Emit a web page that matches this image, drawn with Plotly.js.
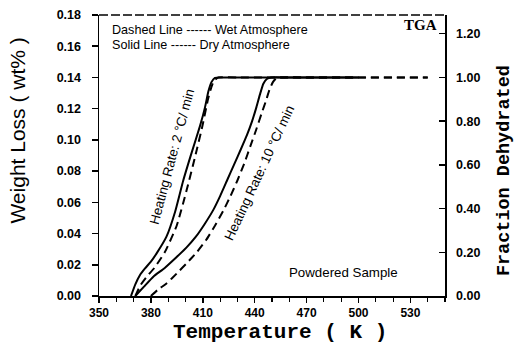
<!DOCTYPE html>
<html>
<head>
<meta charset="utf-8">
<script src="https://cdn.plot.ly/plotly-3.0.1.min.js"></script>
<style>html,body{margin:0;padding:0;background:#fff;}#chart{width:515px;height:343px;}</style>
</head>
<body>
<div id="chart"></div>
<script>
// Temperature (K) and weight loss (wt fraction)
var dry2T = [368.5, 371, 373.7, 376.6, 380, 383.3, 389, 394, 398.7, 403.6, 408.4, 411.3, 413.2, 415, 417, 420, 440, 470, 500];
var dry2W = [0, 0.0075, 0.0135, 0.0177, 0.022, 0.0273, 0.038, 0.054, 0.074, 0.092, 0.109, 0.121, 0.131, 0.137, 0.1398, 0.14, 0.14, 0.14, 0.14];

var wet2T = [371, 374, 377.6, 382, 388, 394.9, 400.7, 405.5, 409.8, 413, 415, 416.5, 419, 430, 460, 500, 540];
var wet2W = [0, 0.007, 0.0124, 0.018, 0.028, 0.045, 0.068, 0.089, 0.109, 0.126, 0.134, 0.138, 0.14, 0.14, 0.14, 0.14, 0.14];

var dry10T = [371, 376, 381.4, 388, 394.9, 400.5, 406, 411, 416, 420, 424, 428, 432, 435.5, 438.5, 441, 443, 445, 447, 449.5, 460, 480, 500];
var dry10W = [0, 0.006, 0.0124, 0.018, 0.025, 0.031, 0.038, 0.046, 0.055, 0.064, 0.074, 0.084, 0.094, 0.103, 0.112, 0.121, 0.129, 0.136, 0.139, 0.14, 0.14, 0.14, 0.14];

var wet10T = [380, 384, 389, 395, 400.7, 406.5, 412, 417, 422, 426, 430, 434, 437.5, 441, 444, 446.5, 448.5, 450.5, 452.5, 455, 470, 500, 540];
var wet10W = [0, 0.004, 0.008, 0.0145, 0.021, 0.028, 0.036, 0.045, 0.055, 0.064, 0.074, 0.085, 0.096, 0.107, 0.117, 0.125, 0.132, 0.137, 0.1395, 0.14, 0.14, 0.14, 0.14];

var xTickVals = [350, 380, 410, 440, 470, 500, 530];
var yTickVals = [0, 0.02, 0.04, 0.06, 0.08, 0.10, 0.12, 0.14, 0.16, 0.18];
var y2TickVals = [0, 0.2, 0.4, 0.6, 0.8, 1.0, 1.2];
var plateauW = 0.14; // weight loss at full dehydration (fraction = 1)

var solid = {color: '#000', width: 2, shape: 'spline', smoothing: 0.5};
var dashed = {color: '#000', width: 2, dash: '8px,5px', shape: 'spline', smoothing: 0.5};

var traces = [
  {x: dry2T, y: dry2W, mode: 'lines', line: solid, name: 'Dry 2 °C/min'},
  {x: wet2T, y: wet2W, mode: 'lines', line: dashed, name: 'Wet 2 °C/min'},
  {x: dry10T, y: dry10W, mode: 'lines', line: solid, name: 'Dry 10 °C/min'},
  {x: wet10T, y: wet10W, mode: 'lines', line: dashed, name: 'Wet 10 °C/min'},
  {x: dry2T, y: dry2W.map(function(w){return w / plateauW;}), yaxis: 'y2', mode: 'lines',
   line: {width: 0, color: 'rgba(0,0,0,0)'}, hoverinfo: 'skip', name: 'fraction'}
];

var tickFont = {family: 'Liberation Sans, Arial, sans-serif', size: 12.5, color: '#000', weight: 'bold'};
var txtFont = {family: 'Liberation Sans, Arial, sans-serif', size: 13.3, color: '#000'};
var legFont = {family: 'Liberation Sans, Arial, sans-serif', size: 12.6, color: '#000'};
var sp = '\u00a0';

var layout = {
  width: 515, height: 343,
  margin: {l: 99, r: 70, t: 15, b: 47, pad: 0},
  paper_bgcolor: '#fff', plot_bgcolor: '#fff',
  showlegend: false,
  xaxis: {
    range: [350, 550], tickvals: xTickVals, ticktext: xTickVals.map(String),
    ticks: 'outside', ticklen: 5, tickwidth: 1.5, tickcolor: '#000',
    minor: {dtick: 10, tick0: 350, ticks: 'outside', ticklen: 4, tickwidth: 1.2, tickcolor: '#000', showgrid: false},
    showline: true, linecolor: '#000', linewidth: 1.5,
    showgrid: false, zeroline: false,
    tickfont: {family: 'Liberation Sans, Arial, sans-serif', size: 12, color: '#000', weight: 'bold'}
  },
  yaxis: {
    range: [0, 0.18], tickvals: yTickVals, tickformat: '.2f',
    ticks: 'outside', ticklen: 6, tickwidth: 1.5, tickcolor: '#000',
    ticklabelstandoff: 8,
    showline: true, linecolor: '#000', linewidth: 1.5,
    showgrid: false, zeroline: false, tickfont: tickFont
  },
  yaxis2: {
    overlaying: 'y', side: 'right',
    range: [0, 0.18 / plateauW], tickvals: y2TickVals, tickformat: '.2f',
    ticks: 'inside', ticklen: 6, tickwidth: 1.5, tickcolor: '#000',
    ticklabelstandoff: 7,
    showline: true, linecolor: '#000', linewidth: 1.5,
    showgrid: false, zeroline: false, tickfont: tickFont
  },
  shapes: [
    {type: 'line', xref: 'paper', yref: 'paper', x0: 0, x1: 1, y0: 1, y1: 1,
     line: {color: '#000', width: 1.5, dash: '9px,3px'}}
  ],
  annotations: [
    {text: 'Temperature ( K )', xref: 'paper', yref: 'paper', x: 0.523, y: -0.13,
     xanchor: 'center', yanchor: 'middle', showarrow: false,
     font: {family: 'Liberation Mono, Courier New, monospace', size: 21, color: '#000', weight: 'bold'}},
    {text: 'Weight' + sp + 'Loss' + sp + '(' + sp + 'wt%' + sp + ')', xref: 'paper', yref: 'paper', x: -0.2355, y: 0.587,
     xanchor: 'center', yanchor: 'middle', showarrow: false, textangle: -90,
     font: {family: 'Liberation Sans, Arial, sans-serif', size: 21, color: '#000'}},
    {text: 'Fraction Dehydrated', xref: 'paper', yref: 'paper', x: 1.1705, y: 0.448,
     xanchor: 'center', yanchor: 'middle', showarrow: false, textangle: -90,
     font: {family: 'Liberation Mono, Courier New, monospace', size: 18.5, color: '#000', weight: 'bold'}},
    {text: 'TGA', xref: 'paper', yref: 'paper', x: 0.9827, y: 0.9644,
     xanchor: 'right', yanchor: 'middle', showarrow: false,
     font: {family: 'Liberation Serif, Times New Roman, serif', size: 15, color: '#000', weight: 'bold'}},
    {text: 'Dashed Line ------ Wet Atmosphere', xref: 'paper', yref: 'paper', x: 0.0318, y: 0.946,
     xanchor: 'left', yanchor: 'middle', showarrow: false, font: legFont},
    {text: 'Solid Line ------ Dry Atmosphere', xref: 'paper', yref: 'paper', x: 0.0318, y: 0.893,
     xanchor: 'left', yanchor: 'middle', showarrow: false, font: legFont},
    {text: 'Heating Rate: 2 °C/ min', x: 392.2, y: 0.0893, xref: 'x', yref: 'y',
     xanchor: 'center', yanchor: 'middle', showarrow: false, textangle: -75, font: txtFont},
    {text: 'Heating Rate: 10 °C/ min', x: 442.5, y: 0.0785, xref: 'x', yref: 'y',
     xanchor: 'center', yanchor: 'middle', showarrow: false, textangle: -65, font: txtFont},
    {text: 'Powdered Sample', xref: 'paper', yref: 'paper', x: 0.708, y: 0.0854,
     xanchor: 'center', yanchor: 'middle', showarrow: false, font: txtFont}
  ]
};

Plotly.newPlot('chart', traces, layout, {displayModeBar: false, staticPlot: true});
</script>
</body>
</html>
